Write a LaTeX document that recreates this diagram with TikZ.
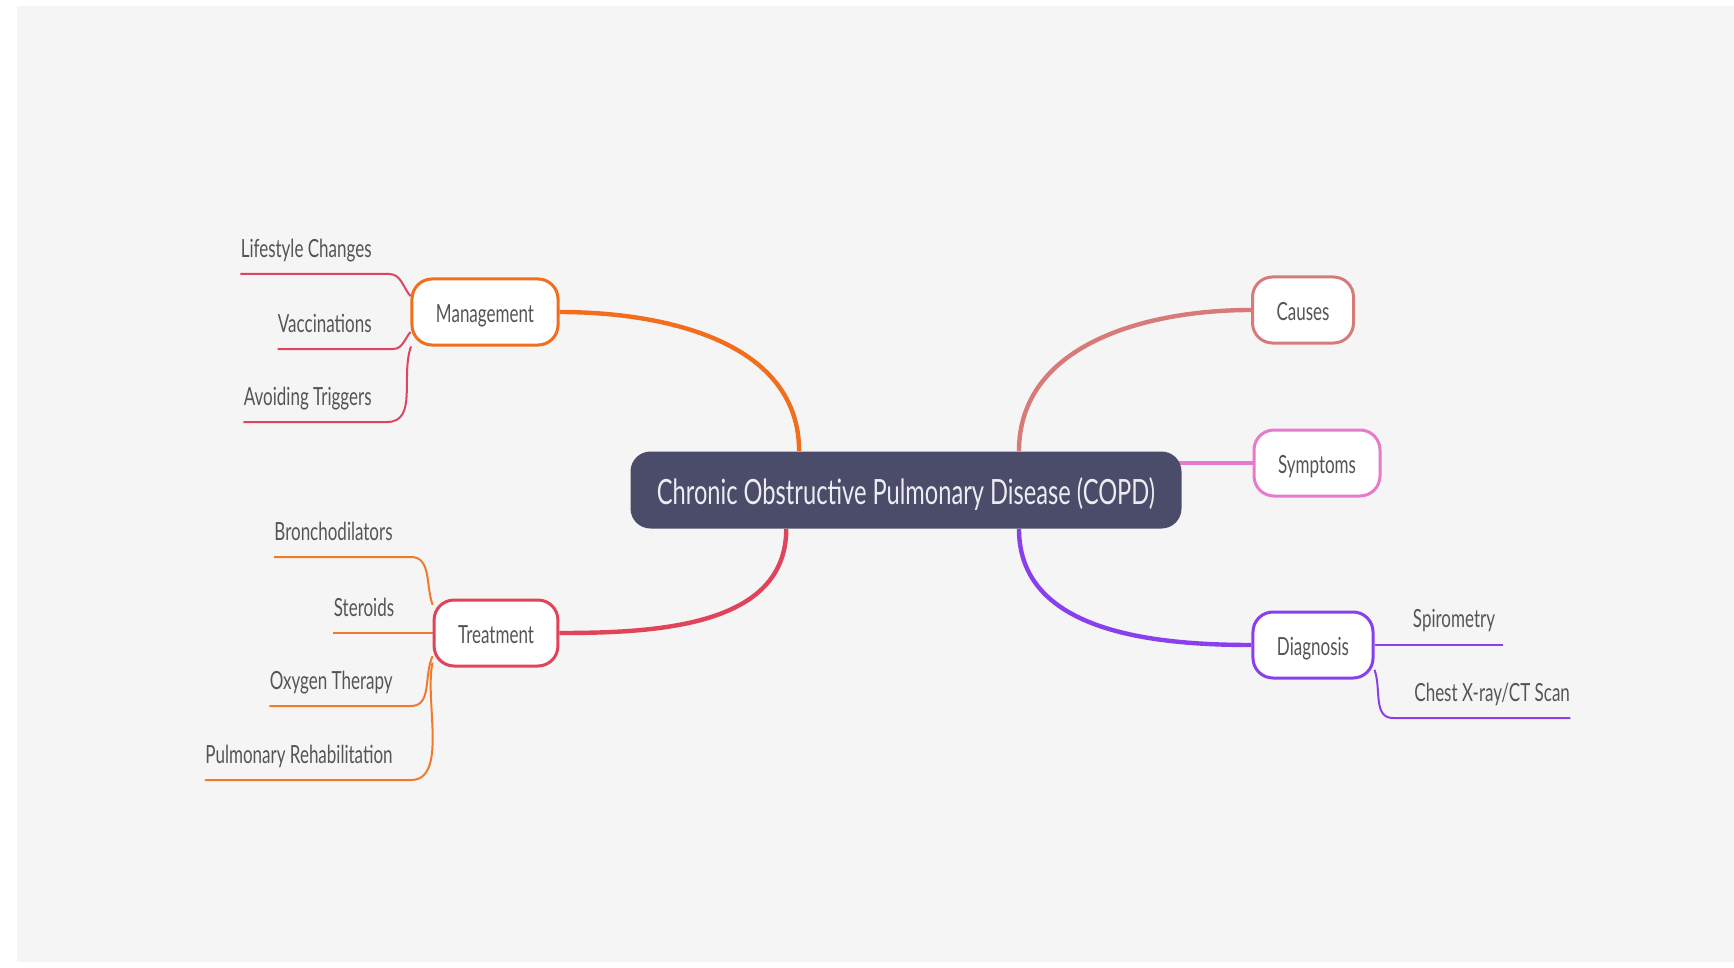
\documentclass[tikz,border=0pt]{standalone}
\usepackage{fontspec}
\setmainfont{Lato}[FakeStretch=0.68]
\usepackage{xcolor}
\usetikzlibrary{positioning,calc}
\definecolor{copdfill}{HTML}{4A4C69}
\definecolor{copdtext}{HTML}{ECECF2}
\definecolor{labelgray}{HTML}{555555}
\definecolor{canvasgray}{HTML}{F5F5F5}
\definecolor{mgmtorange}{HTML}{F26E1D}
\definecolor{mgmtleaf}{HTML}{E04560}
\definecolor{treatred}{HTML}{E0435A}
\definecolor{treatleaf}{HTML}{F27A2C}
\definecolor{causerose}{HTML}{D77B78}
\definecolor{symppink}{HTML}{E77BCB}
\definecolor{diagpurple}{HTML}{8A3FEF}
\pgfdeclarelayer{canvas}
\pgfdeclarelayer{lines}
\pgfsetlayers{canvas,lines,main}
\tikzset{
  copd root/.style={rectangle, rounded corners=10pt, fill=copdfill, text=copdtext, minimum width=275.5pt, minimum height=38.5pt, text height=14.4pt, text depth=0pt, font=\fontsize{17.4}{20}\selectfont},
  copd topic/.style={rectangle, rounded corners=10pt, draw=#1, line width=1.5pt, fill=white, text=labelgray, minimum height=33pt, inner xsep=12pt, text height=10.6pt, text depth=0pt, font=\fontsize{12.5}{15}\selectfont},
  copd leaf/.style={inner sep=0pt, text=labelgray, font=\fontsize{12.5}{15}\selectfont},
  copd branch/.style={draw=#1, line width=2.2pt},
  copd twig/.style={draw=#1, line width=1pt}
}
\begin{document}
\begin{tikzpicture}[x=0.5pt, y=0.5pt]
    \useasboundingbox (0,0) rectangle (1734,-968);
    \begin{pgfonlayer}{canvas}
      \fill[canvasgray] (17,-6) rectangle (1734,-962);
    \end{pgfonlayer}

    % Central topic and main branches
    \node [copd root] (COPD) at (906,-490) {Chronic Obstructive Pulmonary Disease (COPD)};
    \node [copd topic=mgmtorange] (Mgmt) at (485,-312) {Management};
    \node [copd topic=treatred] (Treat) at (496,-633) {Treatment};
    \node [copd topic=causerose] (Causes) at (1303,-310) {Causes};
    \node [copd topic=symppink] (Symp) at (1317,-463) {Symptoms};
    \node [copd topic=diagpurple] (Diag) at (1313,-645) {Diagnosis};

    % Management leaves
    \coordinate (lifeEnd) at (389,-274);
    \coordinate (vaccEnd) at (393,-349);
    \coordinate (avoidEnd) at (387,-422);
    \node [copd leaf, anchor=base east] (Life) at ([shift={(-8.5pt,8.5pt)}]lifeEnd) {Lifestyle Changes};
    \node [copd leaf, anchor=base east] (Vacc) at ([shift={(-10.5pt,8.5pt)}]vaccEnd) {Vaccinations};
    \node [copd leaf, anchor=base east] (Avoid) at ([shift={(-7.5pt,8.5pt)}]avoidEnd) {Avoiding Triggers};

    % Treatment leaves
    \coordinate (bronEnd) at (411,-557);
    \coordinate (oxyEnd) at (411,-706);
    \coordinate (pulmEnd) at (411,-780);
    \node [copd leaf, anchor=base east] (Bron) at ([shift={(-9pt,8.5pt)}]bronEnd) {Bronchodilators};
    \node [copd leaf, anchor=base east] (Ster) at ([shift={(-19pt,8.5pt)}]Treat.west) {Steroids};
    \node [copd leaf, anchor=base east] (Oxy) at ([shift={(-9pt,8.5pt)}]oxyEnd) {Oxygen Therapy};
    \node [copd leaf, anchor=base east] (Pulm) at ([shift={(-9pt,8.5pt)}]pulmEnd) {Pulmonary Rehabilitation};

    % Diagnosis leaves
    \coordinate (chestStart) at (1393,-718);
    \node [copd leaf, anchor=base west] (Spiro) at ([shift={(19pt,9pt)}]Diag.east) {Spirometry};
    \node [copd leaf, anchor=base west] (Chest) at ([shift={(10.5pt,8.5pt)}]chestStart) {Chest X-ray/CT Scan};

    \begin{pgfonlayer}{lines}
      \draw [copd branch=mgmtorange] (Mgmt.east) to[out=0, in=90] (COPD.160.5);
      \draw [copd branch=treatred] (COPD.198.5) to[out=-90, in=0] (Treat.east);
      \draw [copd branch=causerose] (COPD.19.1) to[out=90, in=180] (Causes.west);
      \draw [copd branch=symppink] ([xshift=-6pt]Symp.west -| COPD.east) -- (Symp.west);
      \draw [copd branch=diagpurple] (COPD.341.3) to[out=-90, in=180] (Diag.west);

      \draw [copd twig=mgmtleaf] (Mgmt.168) to[out=130, in=0] (lifeEnd) -- (lifeEnd -| Life.west);
      \draw [copd twig=mgmtleaf] (Mgmt.195) to[out=230, in=0] (vaccEnd) -- (vaccEnd -| Vacc.west);
      \draw [copd twig=mgmtleaf] (Mgmt.205) to[out=250, in=0] (avoidEnd) -- (avoidEnd -| Avoid.west);

      \draw [copd twig=treatleaf] (Treat.156) to[out=110, in=0] (bronEnd) -- (bronEnd -| Bron.west);
      \draw [copd twig=treatleaf] (Treat.west) -- (Treat.west -| Ster.west);
      \draw [copd twig=treatleaf] (Treat.200) to[out=245, in=0] (oxyEnd) -- (oxyEnd -| Oxy.west);
      \draw [copd twig=treatleaf] (Treat.205) to[out=257, in=0, looseness=0.8] (pulmEnd) -- (pulmEnd -| Pulm.west);

      \draw [copd twig=diagpurple] (Diag.east) -- ([xshift=4pt]Diag.east -| Spiro.east);
      \draw [copd twig=diagpurple] (Diag.338) to[out=290, in=180] (chestStart) -- (chestStart -| Chest.east);
    \end{pgfonlayer}
\end{tikzpicture}
\end{document}
